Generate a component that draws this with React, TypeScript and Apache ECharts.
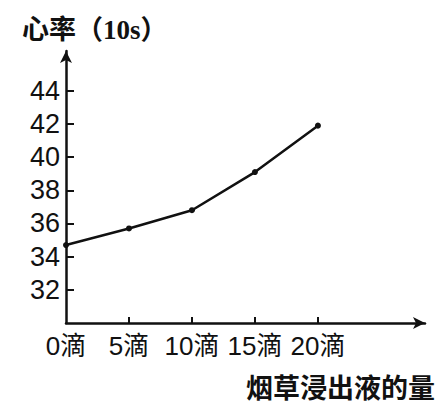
import React, { useEffect, useRef } from "react";
import * as echarts from "echarts";

const doses = [0, 5, 10, 15, 20];
const heartRate = [34.7, 35.7, 36.8, 39.1, 41.9];
const yTickValues = [32, 34, 36, 38, 40, 42, 44];
const xTickValues = [5, 10, 15, 20];
const xLabelValues = [0, 5, 10, 15, 20];
const unit = "滴";
const yTitle = "心率（10s）";
const xTitle = "烟草浸出液的量";

const serif = "'Liberation Serif', 'Noto Sans CJK SC', serif";
const sans = "'Liberation Sans', 'Noto Sans CJK SC', sans-serif";
const ink = "#111";

export default function App() {
  const ref = useRef<HTMLDivElement>(null);
  useEffect(() => {
    if (!ref.current) return;
    const chart = echarts.init(ref.current, null, { renderer: "svg" });
    chart.setOption({
      animation: false,
      backgroundColor: "#fff",
      grid: { left: 66, right: 17, top: 51, bottom: 83, containLabel: false },
      title: {
        text: yTitle,
        left: 17,
        top: 11,
        textStyle: { fontFamily: serif, fontSize: 27, fontWeight: "bold", color: ink },
      },
      graphic: [
        {
          type: "text",
          right: 7,
          top: 373,
          style: {
            text: xTitle,
            font: "bold 27px 'Noto Sans CJK SC', serif",
            lineHeight: 27,
            fill: ink,
          },
        },
      ],
      xAxis: {
        type: "value",
        min: 0,
        max: 28.5,
        splitLine: { show: false },
        axisLine: {
          lineStyle: { color: ink, width: 2.5 },
          symbol: ["none", "arrow"],
          symbolSize: [9, 12],
        },
        axisTick: {
          inside: true,
          length: 6,
          lineStyle: { color: ink, width: 2 },
          customValues: xTickValues,
        },
        axisLabel: {
          customValues: xLabelValues,
          formatter: (v: number) => v + unit,
          margin: 10,
          fontFamily: sans,
          fontSize: 26,
          color: ink,
        },
      },
      yAxis: {
        type: "value",
        min: 30,
        max: 46.4,
        splitLine: { show: false },
        axisLine: {
          lineStyle: { color: ink, width: 2.5 },
          symbol: ["none", "arrow"],
          symbolSize: [9, 12],
        },
        axisTick: {
          inside: true,
          length: 8,
          lineStyle: { color: ink, width: 2 },
          customValues: yTickValues,
        },
        axisLabel: {
          customValues: yTickValues,
          margin: 6,
          fontFamily: sans,
          fontSize: 27,
          color: ink,
        },
      },
      series: [
        {
          type: "line",
          data: doses.map((d, i) => [d, heartRate[i]]),
          symbol: "circle",
          symbolSize: 6,
          itemStyle: { color: ink },
          lineStyle: { color: ink, width: 2.5 },
        },
      ],
    });
    return () => chart.dispose();
  }, []);
  return (
    <div
      ref={ref}
      style={{ position: "fixed", left: 0, top: 0, width: 442, height: 406, background: "#fff" }}
    />
  );
}
